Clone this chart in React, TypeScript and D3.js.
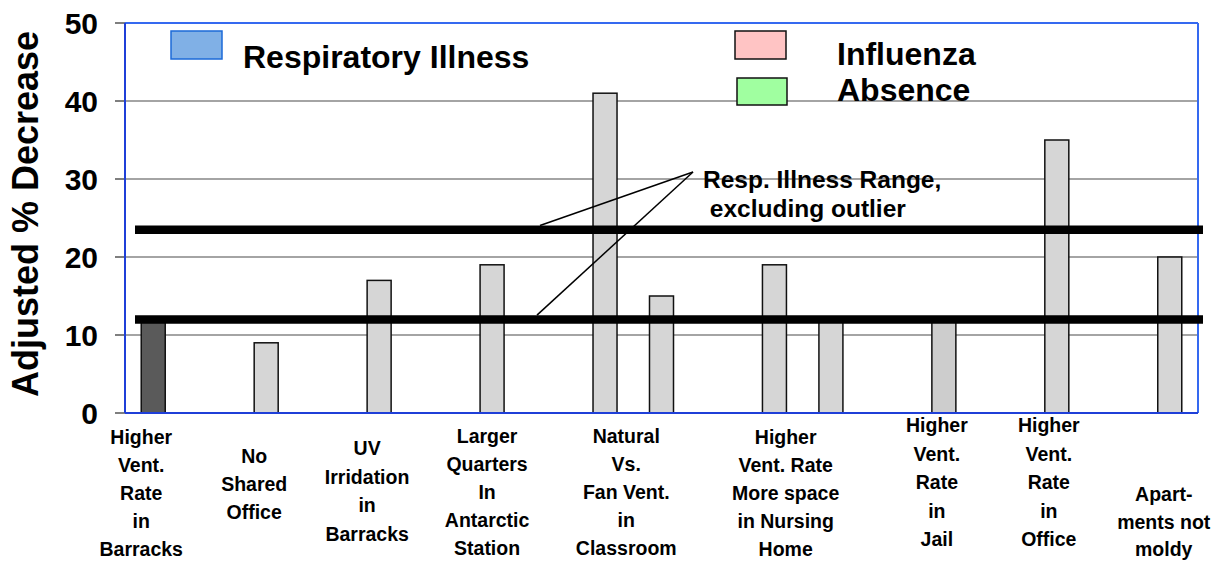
import React from "react";
import * as d3 from "d3";

// ---- data ----
const slotValues: (number | null)[] = [12, null, 9, null, 17, null, 19, null, 41, 15, null, 19, 12, null, 12, null, 35, null, 20];
const slotTone: string[] = ["dark", "", "light", "", "light", "", "light", "", "light", "light", "", "light", "light", "", "mid", "", "light", "", "light"];
const yTicks = [0, 10, 20, 30, 40, 50];
const rangeValues = [12, 23.5];
const categoryLabels: string[][] = [
  ["Higher", "Vent.", "Rate", "in", "Barracks"],
  ["No", "Shared", "Office"],
  ["UV", "Irridation", "in", "Barracks"],
  ["Larger", "Quarters", "In", "Antarctic", "Station"],
  ["Natural", "Vs.", "Fan Vent.", "in", "Classroom"],
  ["Higher", "Vent. Rate", "More space", "in Nursing", "Home"],
  ["Higher", "Vent.", "Rate", "in", "Jail"],
  ["Higher", "Vent.", "Rate", "in", "Office"],
  ["Apart-", "ments not", "moldy"],
];
const categorySlots: number[][] = [[0], [2], [4], [6], [8, 9], [11, 12], [14], [16], [18]];
const legendItems = ["Respiratory Illness", "Influenza", "Absence"];
const annotationLines = ["Resp. Illness Range,", " excluding outlier"];

// ---- layout ----
const W = 1225, H = 565;
const left = 125, right = 1198, top = 23, bottom = 413;
const labelLayout = [
  { dx: -12, y0: 444, lh: 28 },
  { dx: -12, y0: 463, lh: 28 },
  { dx: -12, y0: 455, lh: 28.5 },
  { dx: -5, y0: 443, lh: 28 },
  { dx: -7, y0: 443, lh: 28 },
  { dx: -17, y0: 444, lh: 28 },
  { dx: -7, y0: 432, lh: 28.5 },
  { dx: -8, y0: 432, lh: 28.5 },
  { dx: -6, y0: 501, lh: 27.5 },
];
const FONT = "'Liberation Sans', Arial, Helvetica, sans-serif";
const toneFill: Record<string, string> = { dark: "#5a5a5a", light: "#d6d6d6", mid: "#cdcdcd" };

export default function App() {
  const x = d3.scaleBand<number>().domain(d3.range(slotValues.length)).range([left, right]).paddingInner(0.575).paddingOuter(0.2875);
  const y = d3.scaleLinear().domain([0, 50]).range([bottom, top]);
  const bw = x.bandwidth();
  const center = (i: number) => (x(i) as number) + bw / 2;
  const lineW = 8.5;
  const apex = { x: 693, y: 172 };

  return (
    <svg width={W} height={H} style={{ position: "absolute", left: 0, top: 0, background: "#fff" }} fontFamily={FONT} fontWeight="bold">
      <rect width={W} height={H} fill="#fff" />
      {/* gridlines & ticks */}
      {yTicks.map((t) => (
        <g key={t}>
          {t > 0 && t < 50 && <line x1={left} x2={right} y1={y(t)} y2={y(t)} stroke="#4a4a4a" strokeWidth={1.2} />}
          <line x1={115} x2={left} y1={y(t)} y2={y(t)} stroke="#555" strokeWidth={1.5} />
          <text x={98} y={y(t) + 10.7} fontSize={30} textAnchor="end" fill="#000">{t}</text>
        </g>
      ))}
      {/* plot border */}
      <line x1={left} x2={right} y1={top} y2={top} stroke="#3569f0" strokeWidth={2} />
      <line x1={right} x2={right} y1={top} y2={bottom} stroke="#3569f0" strokeWidth={2} />
      {/* legend */}
      <rect x={171} y={31} width={51} height={28} fill="#80b0e6" stroke="#1b6ad8" strokeWidth={1.5} />
      <text x={243} y={68} fontSize={32}>{legendItems[0]}</text>
      <rect x={735} y={31} width={51} height={28} fill="#ffc4c4" stroke="#111" strokeWidth={1.5} />
      <text x={837} y={65} fontSize={32}>{legendItems[1]}</text>
      <rect x={737} y={78} width={50} height={27} fill="#a0ffa0" stroke="#111" strokeWidth={1.5} />
      <text x={837} y={101} fontSize={32}>{legendItems[2]}</text>
      {/* bars */}
      {slotValues.map((v, i) =>
        v == null ? null : (
          <rect key={i} x={x(i)} y={y(v)} width={bw} height={y(0) - y(v)} fill={toneFill[slotTone[i]]} stroke="#111" strokeWidth={1.5} />
        )
      )}
      {/* axes lines */}
      <line x1={left} x2={left} y1={top} y2={bottom} stroke="#1f3fd8" strokeWidth={2} />
      <line x1={left} x2={right} y1={bottom} y2={bottom} stroke="#1f3fd8" strokeWidth={2} />
      {/* range lines */}
      {rangeValues.map((v) => (
        <line key={v} x1={135} x2={1203} y1={y(v)} y2={y(v)} stroke="#000" strokeWidth={lineW} />
      ))}
      {/* annotation */}
      <line x1={apex.x} y1={apex.y} x2={540} y2={y(rangeValues[1]) - lineW / 2} stroke="#000" strokeWidth={1.5} />
      <line x1={apex.x} y1={apex.y} x2={537} y2={y(rangeValues[0]) - lineW / 2} stroke="#000" strokeWidth={1.5} />
      <text x={703} y={188} fontSize={24.5} style={{ whiteSpace: "pre" }}>{annotationLines[0]}</text>
      <text x={703} y={217} fontSize={24.5} style={{ whiteSpace: "pre" }}>{annotationLines[1]}</text>
      {/* y axis title */}
      <text transform={`translate(38,214) rotate(-90)`} fontSize={36} textAnchor="middle">Adjusted % Decrease</text>
      {/* category labels */}
      {categoryLabels.map((lines, ci) => {
        const slots = categorySlots[ci];
        const cx = (d3.mean(slots.map(center)) as number) + labelLayout[ci].dx;
        return (
          <text key={ci} fontSize={19.5} textAnchor="middle">
            {lines.map((ln, li) => (
              <tspan key={li} x={cx} y={labelLayout[ci].y0 + li * labelLayout[ci].lh}>{ln}</tspan>
            ))}
          </text>
        );
      })}
    </svg>
  );
}
